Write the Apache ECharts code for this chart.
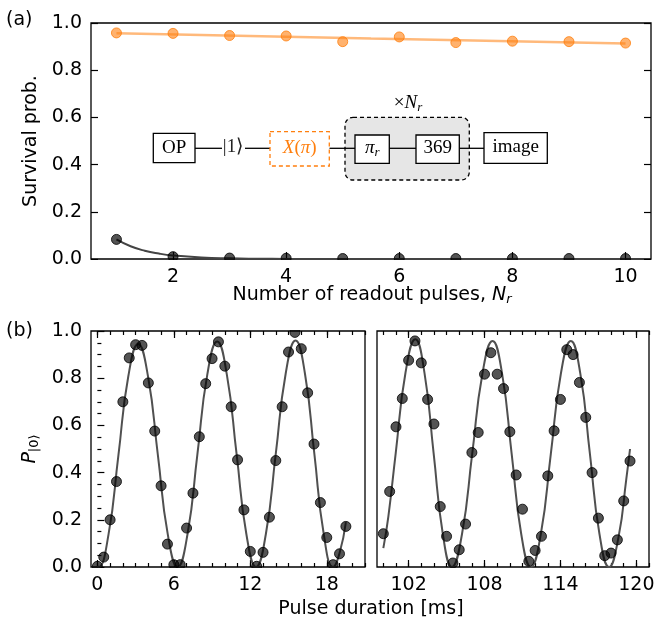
<!DOCTYPE html>
<html><head><meta charset="utf-8">
<script src="https://cdn.jsdelivr.net/npm/echarts@6/dist/echarts.min.js"></script>
<style>html,body{margin:0;padding:0;background:#fff}#c{width:658px;height:622px}</style>
</head><body><div id="c"></div>
<script>
// ---------- data ----------
const readoutPulses = [1, 2, 3, 4, 5, 6, 7, 8, 9, 10];
const survivalBright = [0.958, 0.956, 0.947, 0.945, 0.921, 0.941, 0.917, 0.923, 0.921, 0.915];
const survivalDark = [0.083, 0.010, 0.004, 0.003, 0.002, 0.002, 0.002, 0.002, 0.002, 0.002];
const brightFitX = [1, 5.5, 10];
const brightFitY = [0.957, 0.934, 0.913];
const darkFitX = [1, 1.25, 1.5, 1.75, 2, 2.5, 3, 3.5, 4, 5, 6, 10];
const darkFitY = [0.083, 0.054, 0.035, 0.023, 0.015, 0.0063, 0.0027, 0.0012, 0.0005, 0.0001, 0, 0];

const durationLeft = [0, 0.5, 1, 1.5, 2, 2.5, 3, 3.5, 4, 4.5, 5, 5.5, 6, 6.5, 7, 7.5, 8, 8.5, 9, 9.5,
  10, 10.5, 11, 11.5, 12, 12.5, 13, 13.5, 14, 14.5, 15, 15.5, 16, 16.5, 17, 17.5, 18, 18.5, 19, 19.5];
const popLeft = [0.003, 0.042, 0.200, 0.362, 0.700, 0.886, 0.942, 0.939, 0.780, 0.576, 0.344, 0.097, 0.010, 0.010,
  0.165, 0.313, 0.552, 0.777, 0.883, 0.954, 0.851, 0.679, 0.454, 0.242, 0.066, 0.003, 0.062, 0.211, 0.451, 0.679,
  0.911, 0.994, 0.925, 0.738, 0.521, 0.273, 0.125, 0.010, 0.056, 0.172];
const fitLeftX = [0, 0.1, 0.875, 1.65, 2.425, 3.2, 3.975, 4.75, 5.525, 6.3, 7.075, 7.85, 8.625, 9.4,
  10.16, 10.925, 11.69, 12.45, 13.225, 14.0, 14.775, 15.55, 16.29, 17.025, 17.76, 18.5, 19.0, 19.5];
const fitLeftY = [0.004, 0, 0.138, 0.473, 0.807, 0.945, 0.807, 0.473, 0.138, 0, 0.140, 0.478, 0.815, 0.955,
  0.815, 0.478, 0.140, 0, 0.141, 0.480, 0.819, 0.960, 0.819, 0.480, 0.141, 0, 0.058, 0.19];

const durationRight = [100, 100.5, 101, 101.5, 102, 102.5, 103, 103.5, 104, 104.5, 105, 105.5, 106, 106.5, 107, 107.5,
  108, 108.5, 109, 109.5, 110, 110.5, 111, 111.5, 112, 112.5, 113, 113.5, 114, 114.5, 115, 115.5, 116, 116.5, 117,
  117.5, 118, 118.5, 119, 119.5];
const popRight = [0.141, 0.320, 0.594, 0.714, 0.876, 0.958, 0.865, 0.710, 0.606, 0.256, 0.130, 0.017, 0.073, 0.182,
  0.485, 0.570, 0.817, 0.908, 0.817, 0.756, 0.573, 0.390, 0.245, 0.024, 0.070, 0.130, 0.386, 0.577, 0.710, 0.921,
  0.900, 0.782, 0.634, 0.400, 0.207, 0.048, 0.059, 0.115, 0.280, 0.449];
const fitRightX = [100, 100.4, 100.98, 101.755, 102.53, 103.25, 103.975, 104.7, 105.42, 106.22, 107.025, 107.83, 108.63,
  109.39, 110.145, 110.9, 111.66, 112.45, 113.24, 114.03, 114.82, 115.575, 116.33, 117.085, 117.84, 118.6, 119.2, 119.5];
const fitRightY = [0.08, 0.215, 0.483, 0.824, 0.965, 0.824, 0.483, 0.141, 0, 0.140, 0.479, 0.818, 0.958,
  0.818, 0.479, 0.140, 0, 0.140, 0.479, 0.818, 0.958, 0.818, 0.479, 0.140, 0, 0.13, 0.37, 0.50];

const ticksA = [2, 4, 6, 8, 10];
const ticksLeft = [0, 6, 12, 18];
const minorLeft = [0, 1, 2, 3, 4, 5, 6, 7, 8, 9, 10, 11, 12, 13, 14, 15, 16, 17, 18, 19, 20, 21];
const ticksRight = [102, 108, 114, 120];
const minorRight = [100, 101, 102, 103, 104, 105, 106, 107, 108, 109, 110, 111, 112, 113, 114, 115, 116, 117, 118, 119, 120, 121];

// ---------- helpers ----------
const FONT = 'DejaVu Sans';
const FS = 19;
const zip = (xs, ys) => xs.map((x, i) => [x, ys[i]]);

function xAx(grid, min, max, vals, pos, len, labels) {
  return {
    type: 'value', gridIndex: grid, min: min, max: max, position: pos, offset: 0,
    axisLine: { show: false },
    splitLine: { show: false },
    axisTick: { show: true, inside: true, length: len, customValues: vals, lineStyle: { color: '#000', width: 1.2 } },
    axisLabel: labels ? { show: true, customValues: vals, fontSize: FS, fontFamily: FONT, color: '#000', margin: 9 } : { show: false }
  };
}
function yAx(grid, pos, labels, minor, ticks) {
  return {
    type: 'value', gridIndex: grid, min: 0, max: 1, interval: 0.2, position: pos,
    axisLine: { show: false },
    splitLine: { show: false },
    axisTick: { show: ticks !== false, inside: true, length: 7, lineStyle: { color: '#000', width: 1.2 } },
    minorTick: { show: !!minor, splitNumber: 4, length: 4, lineStyle: { color: '#000', width: 1.2 } },
    axisLabel: labels ? { show: true, fontSize: FS, fontFamily: FONT, color: '#000', margin: 9,
      formatter: v => v.toFixed(1) } : { show: false }
  };
}
const gridBase = { show: true, borderColor: '#000', borderWidth: 1.3, backgroundColor: 'transparent' };

const darkPt = { color: 'rgba(0,0,0,0.84)', borderColor: '#000', borderWidth: 1 };

const chart = echarts.init(document.getElementById('c'));
chart.setOption({
  animation: false,
  backgroundColor: '#fff',
  grid: [
    Object.assign({ left: 91, top: 23, width: 560, height: 236 }, gridBase),
    Object.assign({ left: 91, top: 331, width: 274, height: 236 }, gridBase),
    Object.assign({ left: 377, top: 331, width: 272, height: 236 }, gridBase)
  ],
  xAxis: [
    xAx(0, 0.55, 10.45, ticksA, 'bottom', 7, true),
    xAx(0, 0.55, 10.45, ticksA, 'top', 7, false),
    xAx(1, -0.5, 21, ticksLeft, 'bottom', 7, true),
    xAx(1, -0.5, 21, minorLeft, 'bottom', 4, false),
    xAx(1, -0.5, 21, ticksLeft, 'top', 7, false),
    xAx(1, -0.5, 21, minorLeft, 'top', 4, false),
    xAx(2, 99.5, 121, ticksRight, 'bottom', 7, true),
    xAx(2, 99.5, 121, minorRight, 'bottom', 4, false),
    xAx(2, 99.5, 121, ticksRight, 'top', 7, false),
    xAx(2, 99.5, 121, minorRight, 'top', 4, false)
  ],
  yAxis: [
    yAx(0, 'left', true, false),
    yAx(0, 'right', false, false),
    yAx(1, 'left', true, true),
    yAx(2, 'left', false, false, false)
  ],
  series: [
    { type: 'line', xAxisIndex: 0, yAxisIndex: 0, data: zip(brightFitX, brightFitY), smooth: true, symbol: 'none',
      lineStyle: { color: 'rgba(255,127,14,0.55)', width: 2.5 }, z: 2 },
    { type: 'scatter', xAxisIndex: 0, yAxisIndex: 0, data: zip(readoutPulses, survivalBright), symbolSize: 10, clip: true,
      itemStyle: { color: 'rgba(255,127,14,0.75)', borderColor: '#ff7f0e', borderWidth: 1 }, z: 3 },
    { type: 'line', xAxisIndex: 0, yAxisIndex: 0, data: zip(darkFitX, darkFitY), smooth: true, symbol: 'none',
      lineStyle: { color: '#444', width: 2 }, z: 2 },
    { type: 'scatter', xAxisIndex: 0, yAxisIndex: 0, data: zip(readoutPulses, survivalDark), symbolSize: 10, clip: true,
      itemStyle: darkPt, z: 3 },
    { type: 'line', xAxisIndex: 2, yAxisIndex: 2, data: zip(fitLeftX, fitLeftY), smooth: true, symbol: 'none',
      lineStyle: { color: '#505050', width: 2 }, z: 2 },
    { type: 'scatter', xAxisIndex: 2, yAxisIndex: 2, data: zip(durationLeft, popLeft), symbolSize: 10, clip: true,
      itemStyle: darkPt, z: 3 },
    { type: 'line', xAxisIndex: 6, yAxisIndex: 3, data: zip(fitRightX, fitRightY), smooth: true, symbol: 'none',
      lineStyle: { color: '#505050', width: 2 }, z: 2 },
    { type: 'scatter', xAxisIndex: 6, yAxisIndex: 3, data: zip(durationRight, popRight), symbolSize: 10, clip: true,
      itemStyle: darkPt, z: 3 }
  ],
  graphic: buildGraphics()
});

function buildGraphics() {
  const SERIF = 'Liberation Serif';
  const SF = 19;
  const lw = 1.3;
  const cy = 148.3;
  const g = [];
  // white strips just outside the plot frames: clip markers that overflow the axes
  const strip = (x, y, w, h) => g.push({ type: 'rect', shape: { x: x, y: y, width: w, height: h },
    style: { fill: '#fff' }, z: 50 });
  strip(84, 260.1, 574, 6.5);
  strip(84, 323.5, 574, 6.4);
  strip(84, 568.1, 574, 6.5);

  const line = (x1, x2) => g.push({ type: 'line', shape: { x1: x1, y1: cy, x2: x2, y2: cy }, style: { stroke: '#000', lineWidth: lw }, z: 101 });
  const box = (x, y, w, h) => g.push({ type: 'rect', shape: { x: x, y: y, width: w, height: h },
    style: { fill: '#fff', stroke: '#000', lineWidth: lw }, z: 102 });
  const txt = (x, y, text, rich, color) => g.push({ type: 'text', x: x, y: y, z: 103,
    style: { text: text, rich: rich || {}, fill: color || '#000',
      fontFamily: SERIF, fontSize: SF, align: 'center', verticalAlign: 'middle' } });

  // grey repeat block
  g.push({ type: 'rect', shape: { x: 345, y: 117.3, width: 124.3, height: 62.7, r: 8 },
    style: { fill: '#e6e6e6', stroke: '#000', lineWidth: lw, lineDash: [4, 3] }, z: 100 });
  line(195, 222); line(245, 270); line(329.3, 355); line(389.3, 416); line(459.3, 484);
  box(153.3, 133.3, 41.7, 29.4);
  g.push({ type: 'rect', shape: { x: 270, y: 131.7, width: 59.3, height: 34.3 },
    style: { fill: '#fff', stroke: '#ff7f0e', lineWidth: lw, lineDash: [4, 3] }, z: 102 });
  box(355, 135, 34.3, 28.3);
  box(416, 135, 43.3, 28.3);
  box(484, 132.7, 63.3, 30.6);

  const R = { u: { fontFamily: SERIF, fontSize: SF }, i: { fontFamily: SERIF, fontSize: SF, fontStyle: 'italic' },
    s: { fontFamily: SERIF, fontSize: 13, fontStyle: 'italic', padding: [9, 0, 0, 0] } };
  const RO = { u: { fontFamily: SERIF, fontSize: SF, fill: '#ff7f0e' }, i: { fontFamily: SERIF, fontSize: SF, fontStyle: 'italic', fill: '#ff7f0e' } };
  txt(174.2, cy, '{u|OP}', R);
  txt(233, cy - 1, '{u|\u007C1\u27E9}', R, '#222');
  txt(299.7, cy, '{i|X}{u|(}{i|\u03C0}{u|)}', RO, '#ff7f0e');
  txt(372.2, cy, '{i|\u03C0}{s|r}', R);
  txt(437.7, cy, '{u|369}', R);
  txt(515.7, cy - 1, '{u|image}', R);
  txt(408, 103, '{u|\u00D7}{i|N}{s|r}', R);

  // panel letters and axis titles
  const lab = (x, y, text, rich, rot, align) => g.push({ type: 'text', x: x, y: y, rotation: rot || 0, z: 103,
    style: { text: text, rich: rich || {}, fill: '#000', fontFamily: FONT, fontSize: FS, align: align || 'center', verticalAlign: 'middle' } });
  const RS = { t: { fontFamily: FONT, fontSize: FS }, i: { fontFamily: FONT, fontSize: FS, fontStyle: 'italic' },
    s: { fontFamily: FONT, fontSize: 13, fontStyle: 'italic', padding: [10, 0, 0, 0] },
    su: { fontFamily: FONT, fontSize: 13, padding: [10, 0, 0, 0] } };
  lab(6, 20, '{t|(a)}', RS, 0, 'left');
  lab(6, 331, '{t|(b)}', RS, 0, 'left');
  lab(372, 295, '{t|Number of readout pulses, }{i|N}{s|r}', RS);
  lab(31, 141, '{t|Survival prob.}', RS, Math.PI / 2);
  lab(30, 449, '{i|P}{su|\u007C0\u27E9}', RS, Math.PI / 2);
  lab(371, 609, '{t|Pulse duration [ms]}', RS);
  return g;
}
</script>
</body></html>
